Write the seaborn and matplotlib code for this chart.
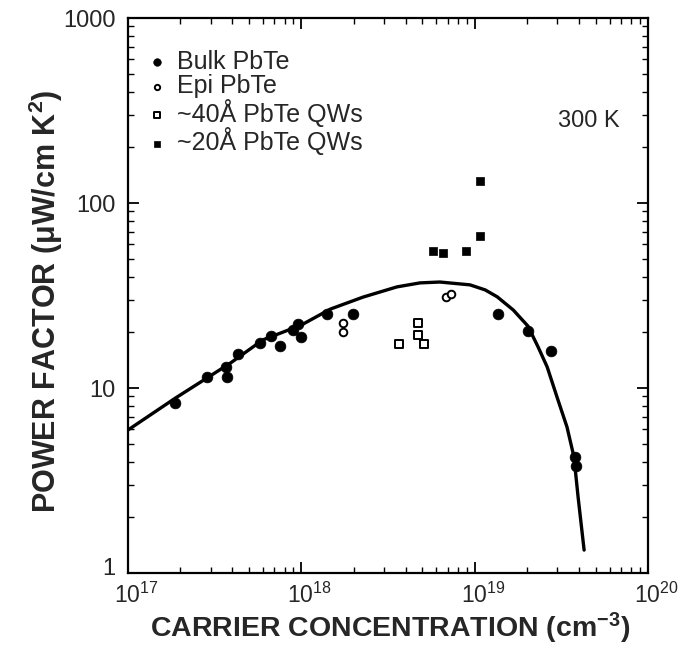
import matplotlib
matplotlib.use("Agg")
import matplotlib.pyplot as plt
import matplotlib.transforms as mtransforms
import seaborn as sns
import numpy as np
from matplotlib.ticker import LogLocator, FixedLocator, FixedFormatter, NullFormatter

# ---- data ----
bulk_x = [1.87e17, 2.86e17, 3.67e17, 3.72e17, 4.32e17, 5.78e17, 6.68e17, 7.53e17,
          8.95e17, 9.57e17, 9.95e17, 1.41e18, 1.99e18, 1.36e19, 2.03e19, 2.76e19,
          3.79e19, 3.85e19]
bulk_y = [8.3, 11.5, 13.0, 11.5, 15.3, 17.5, 19.1, 16.9, 20.6, 22.2, 18.9, 25.1,
          25.1, 25.1, 20.3, 15.8, 4.24, 3.79]

epi_x = [1.74e18, 1.74e18, 6.84e18, 7.31e18]
epi_y = [22.4, 20.1, 31.0, 32.2]

qw40_x = [3.66e18, 4.71e18, 4.71e18, 5.11e18]
qw40_y = [17.3, 22.5, 19.3, 17.3]

qw20_x = [1.07e19, 1.07e19, 5.75e18, 6.58e18, 8.91e18]
qw20_y = [131, 66.4, 55.1, 53.7, 55.1]

curve_x = [1.0e17, 1.87e17, 3.88e17, 6.0e17, 1.0e18, 1.47e18, 2.27e18, 3.56e18,
           4.84e18, 6.3e18, 9.4e18, 1.15e19, 1.35e19, 1.67e19, 2.03e19, 2.32e19,
           2.62e19, 2.99e19, 3.41e19, 3.74e19, 3.95e19, 4.28e19]
curve_y = [5.93, 8.8, 13.6, 18.2, 21.9, 26.7, 31.0, 35.2,
           37.0, 37.4, 36.1, 33.9, 31.1, 26.4, 21.6, 16.7,
           13.0, 8.9, 6.15, 4.24, 2.58, 1.33]

xtick_vals = [1e17, 1e18, 1e19, 1e20]
xtick_labels = [r"$10^{17}$", r"$10^{18}$", r"$10^{19}$", r"$10^{20}$"]
ytick_vals = [1, 10, 100, 1000]
ytick_labels = ["1", "10", "100", "1000"]

sns.set_style("ticks")
plt.rcParams['font.family'] = ['Liberation Sans', 'DejaVu Sans']
plt.rcParams['mathtext.fontset'] = 'custom'
plt.rcParams['mathtext.rm'] = 'Liberation Sans'
plt.rcParams['mathtext.it'] = 'Liberation Sans:italic'
plt.rcParams['mathtext.bf'] = 'Liberation Sans:bold'

fig = plt.figure(figsize=(6.86, 6.55), dpi=100)
ax = fig.add_axes([0.1866, 0.1252, 0.758, 0.8473])

sns.lineplot(x=curve_x, y=curve_y, sort=False, color='black', lw=2.4, ax=ax,
             legend=False)
sns.scatterplot(x=bulk_x, y=bulk_y, marker='o', s=60, color='black',
                edgecolor='black', linewidth=0.5, ax=ax, label='Bulk PbTe', zorder=3)
sns.scatterplot(x=epi_x, y=epi_y, marker='o', s=30, facecolor='white',
                edgecolor='black', linewidth=1.4, ax=ax, label='Epi PbTe', zorder=3)
sns.scatterplot(x=qw40_x, y=qw40_y, marker='s', s=32, facecolor='white',
                edgecolor='black', linewidth=1.4, ax=ax, label='~40Å PbTe QWs', zorder=3)
sns.scatterplot(x=qw20_x, y=qw20_y, marker='s', s=40, color='black',
                edgecolor='black', linewidth=0.5, ax=ax, label='~20Å PbTe QWs', zorder=3)

ax.set_xscale('log')
ax.set_yscale('log')
ax.set_xlim(1e17, 1e20)
ax.set_ylim(1, 1000)

ax.xaxis.set_major_locator(FixedLocator(xtick_vals))
ax.xaxis.set_major_formatter(FixedFormatter(xtick_labels))
ax.yaxis.set_major_locator(FixedLocator(ytick_vals))
ax.yaxis.set_major_formatter(FixedFormatter(ytick_labels))
ax.xaxis.set_minor_locator(LogLocator(base=10, subs=np.arange(2, 10)))
ax.yaxis.set_minor_locator(LogLocator(base=10, subs=np.arange(2, 10)))
ax.xaxis.set_minor_formatter(NullFormatter())
ax.yaxis.set_minor_formatter(NullFormatter())

ax.tick_params(which='both', direction='in', top=True, right=True, color='black')
ax.tick_params(which='major', length=8, width=1.3, labelsize=17)
ax.tick_params(axis='y', which='major', pad=9)
ax.tick_params(axis='x', which='major', pad=7, labelsize=16.5)
ax.tick_params(which='minor', length=4, width=1.0)
for s in ax.spines.values():
    s.set_linewidth(1.6)
    s.set_color('black')

# shift x tick labels slightly right (as in the reference) and lift the "1"
xshift = mtransforms.ScaledTranslation(6 / 72, 0, fig.dpi_scale_trans)
for lbl in ax.get_xticklabels():
    lbl.set_transform(lbl.get_transform() + xshift)
yshift = mtransforms.ScaledTranslation(0, 5 / 72, fig.dpi_scale_trans)
ylbls = ax.get_yticklabels()
ylbls[0].set_transform(ylbls[0].get_transform() + yshift)

ax.set_xlabel(r"CARRIER CONCENTRATION (cm$^{\mathbf{-3}}$)", fontsize=20.5,
              fontweight='bold')
ax.set_ylabel(r"POWER FACTOR (μW/cm K$^{\mathbf{2}}$)", fontsize=22,
              fontweight='bold')
ax.xaxis.label.set_va('center')
ax.yaxis.label.set_va('center')
ax.xaxis.set_label_coords(0.505, -0.1)
ax.yaxis.set_label_coords(-0.158, 0.49)

ax.text(0.945, 0.815, "300 K", transform=ax.transAxes, ha='right', va='center',
        fontsize=17)

leg = ax.legend(loc='upper left', bbox_to_anchor=(0.0, 0.97), frameon=False,
                fontsize=18, handletextpad=0.25, labelspacing=0.02,
                handlelength=1.1, borderaxespad=0.2, markerscale=0.7)

fig.savefig("out.png", dpi=100)
